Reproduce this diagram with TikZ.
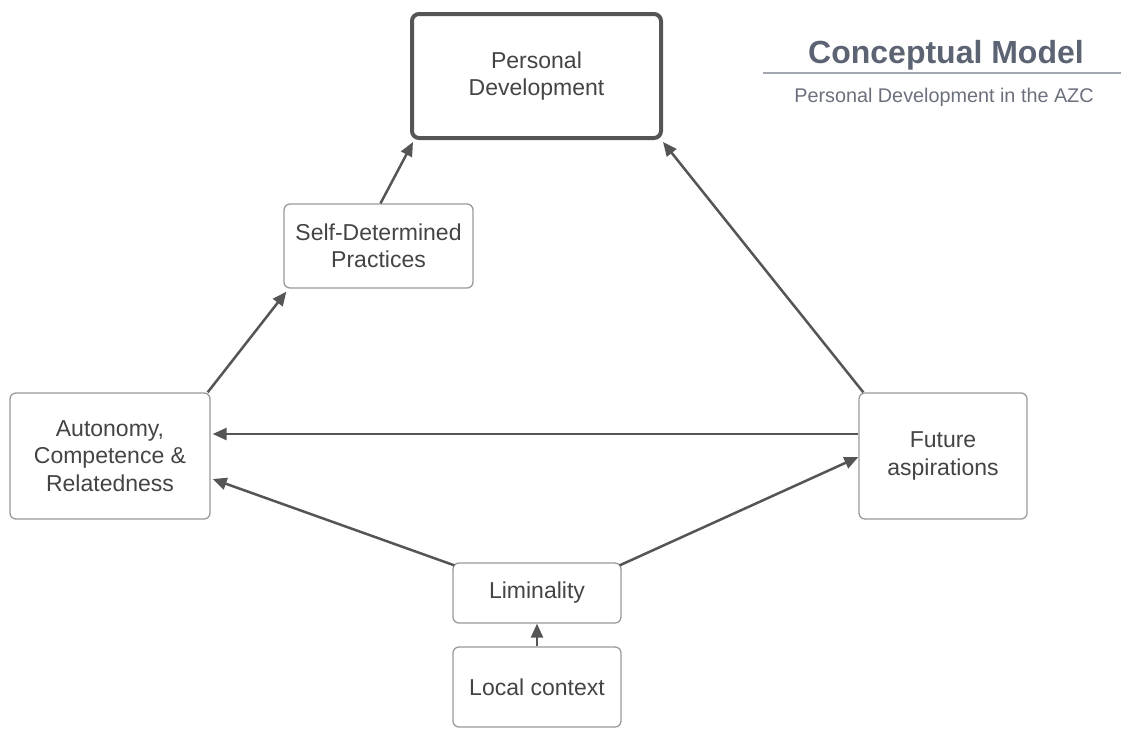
\documentclass[tikz,border=0pt]{standalone}
\usepackage{fontspec}
\setmainfont{Liberation Sans}
\usetikzlibrary{arrows.meta,calc}
\definecolor{boxline}{HTML}{9A9A9A}
\definecolor{darkline}{HTML}{555555}
\definecolor{txt}{HTML}{444444}
\definecolor{titlec}{HTML}{5C6373}
\definecolor{subc}{HTML}{6B707C}
\definecolor{rulec}{HTML}{A3A7B0}
\tikzset{
  box/.style={draw=boxline, line width=1.3pt, rounded corners=6pt, fill=white,
    align=center, text=txt, font=\fontsize{23}{27.5}\selectfont, inner sep=0pt},
  mainbox/.style={box, draw=darkline, line width=4pt, rounded corners=7pt},
  conn/.style={draw=darkline, line width=2.5pt, -{Triangle[length=14pt,width=12pt]}},
}
\begin{document}
\begin{tikzpicture}[x=1pt,y=-1pt]
\useasboundingbox (0,0) rectangle (1121,729);
\node[mainbox, minimum width=249pt, minimum height=124pt] (PD) at (536.5,76) {Personal\\Development};
\node[box, minimum width=189pt, minimum height=84pt] (SDP) at (378.5,246) {Self-Determined\\Practices};
\node[box, minimum width=200pt, minimum height=126pt] (AUT) at (110,456) {Autonomy,\\Competence \&\\Relatedness};
\node[box, minimum width=168pt, minimum height=126pt] (FUT) at (943,456) {Future\\aspirations};
\node[box, minimum width=168pt, minimum height=60pt] (LIM) at (537,593) {Liminality};
\node[box, minimum width=168pt, minimum height=80pt] (LOC) at (537,687) {Local context};
\node[text=titlec, font=\fontsize{32}{38}\selectfont\bfseries] (T) at (946,55) {Conceptual Model};
\coordinate (RL) at (763,73);
\coordinate (RR) at (1121,73);
\draw[rulec, line width=1.5pt] (RL) -- (RR);
\node[text=subc, font=\fontsize{19.8}{23}\selectfont] (ST) at (944,97) {Personal Development in the AZC};
\draw[conn] ([xshift=2pt]SDP.north) -- ([xshift=3pt,yshift=-2pt]PD.south west);
\draw[conn] ([xshift=-3pt]AUT.north east) -- ([xshift=3pt,yshift=-3pt]SDP.south west);
\draw[conn] ([xshift=5pt]FUT.north west) -- ([xshift=0pt,yshift=-2pt]PD.south east);
\draw[conn] ([yshift=22pt]FUT.west) -- ([yshift=22pt,xshift=2pt]AUT.east);
\draw[conn] ([xshift=2pt,yshift=-3pt]LIM.north west) -- ([yshift=-23pt,xshift=2pt]AUT.east);
\draw[conn] ([xshift=-2pt,yshift=-3pt]LIM.north east) -- ([yshift=-1pt]FUT.west);
\draw[conn] (LOC.north) -- (LIM.south);
\end{tikzpicture}
\end{document}
